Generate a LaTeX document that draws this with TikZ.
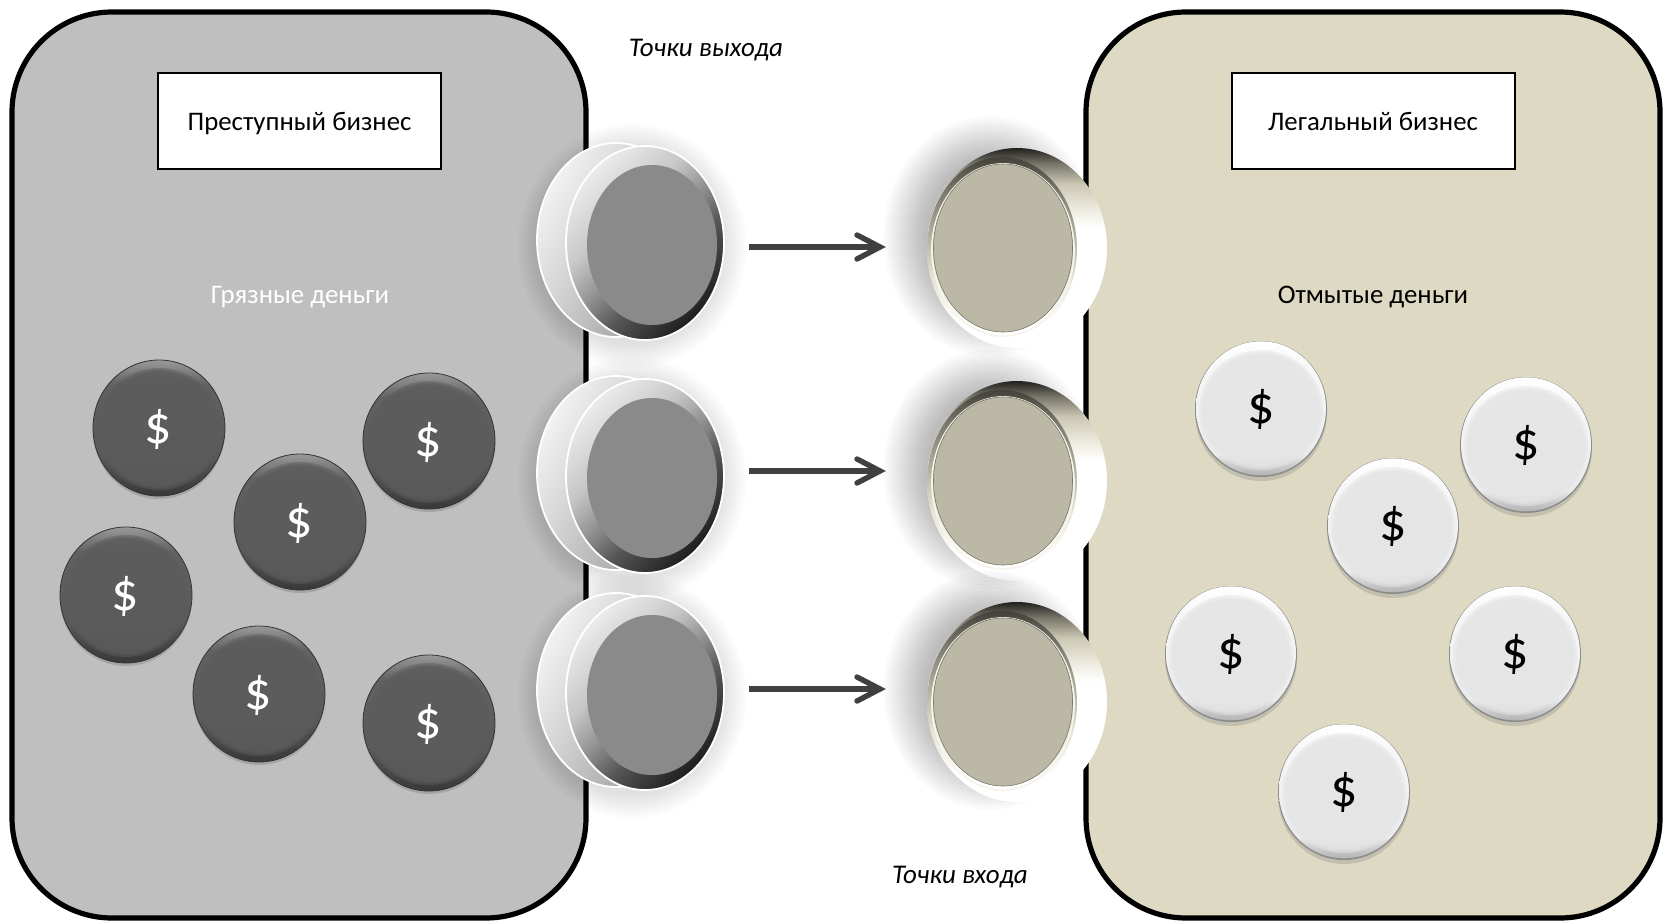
\documentclass[tikz,border=0pt]{standalone}
\usepackage{fontspec}
\usetikzlibrary{shapes.geometric}
\setmainfont{Carlito}
\definecolor{paneL}{HTML}{BFBFBF}
\definecolor{paneR}{HTML}{DDD9C3}
\definecolor{flowc}{HTML}{404040}
\pgfdeclarehorizontalshading{exitfront}{100bp}{color(0bp)=(white); color(25bp)=(black!8); color(40bp)=(black!22); color(50bp)=(black!42); color(60bp)=(black!66); color(75bp)=(black!88); color(100bp)=(black!88)}
\pgfdeclarehorizontalshading{exitback}{100bp}{color(0bp)=(white); color(25bp)=(black!5); color(40bp)=(black!15); color(55bp)=(black!26); color(75bp)=(black!40); color(100bp)=(black!40)}
\pgfdeclareverticalshading{entrybody}{100bp}{color(0bp)=(white); color(55bp)=(white); color(60bp)=(paneR!55!white); color(66bp)=(paneR!92!black); color(71bp)=(paneR!55!black); color(75bp)=(paneR!15!black); color(100bp)=(paneR!15!black)}
\pgfdeclareverticalshading{entryring}{100bp}{color(0bp)=(white); color(30bp)=(white); color(42bp)=(paneR!70!white); color(52bp)=(paneR!85!black); color(66bp)=(paneR!55!black); color(75bp)=(paneR!30!black); color(100bp)=(paneR!30!black)}
\pgfdeclareverticalshading{coindark}{100bp}{color(0bp)=(black!78); color(25bp)=(black!78); color(40bp)=(black!65); color(66bp)=(black!62); color(75bp)=(black!40); color(100bp)=(black!40)}
\pgfdeclareverticalshading{coinlight}{100bp}{color(0bp)=(black!30); color(25bp)=(black!30); color(33bp)=(black!8); color(65bp)=(black!3); color(75bp)=(white); color(100bp)=(white)}
\tikzset{
  panel/.style={line width=2.6pt,draw=black,rounded corners=50pt},
  labelbox/.style={draw=black,fill=white,line width=1pt,minimum width=141.5pt,minimum height=48pt,inner sep=0pt,text height=12pt,text depth=2.4pt,font=\fontsize{13.4}{15}\selectfont},
  plain/.style={inner sep=0pt,text height=12pt,text depth=2.4pt,font=\fontsize{13.4}{15}\selectfont},
  note/.style={inner sep=0pt,text height=12pt,text depth=2.4pt,font=\fontsize{13.5}{15}\selectfont\itshape},
  flow/.style={line width=2.7pt,draw=flowc},
  dollar/.style={inner sep=0pt,font=\fontsize{27}{30}\selectfont}
}
\newcommand{\darkcoin}[3]{%
  \fill[black!45,opacity=.5] (#2,#3+3) ellipse [x radius=66,y radius=68];
  \shade[shading=coindark] (#2,#3) ellipse [x radius=66,y radius=68];
  \draw[black!80,line width=.4pt] (#2,#3) ellipse [x radius=66,y radius=68];
  \foreach \d in {0,2,4}{\fill[black!64,opacity=.5] (#2,#3+1) ellipse [x radius=62-\d,y radius=61-\d];}
  \node[dollar,text=white] (#1) at (#2-.5,#3+1) {\$};
}
\newcommand{\lightcoin}[3]{%
  \fill[black!55,opacity=.25] (#2,#3+4) ellipse [x radius=66,y radius=68];
  \fill[black!45] (#2,#3) ellipse [x radius=66,y radius=68];
  \shade[shading=coinlight] (#2,#3-.7) ellipse [x radius=65,y radius=67];
  \foreach \d in {0,2,4}{\fill[black!10,opacity=.5] (#2,#3+1) ellipse [x radius=62-\d,y radius=60-\d];}
  \node[dollar,text=black] (#1) at (#2,#3) {\$};
}
\newcommand{\exitdisc}[2]{%
  \foreach \d in {0,...,9}{\fill[black,opacity=.012] (632,#2+3) ellipse [x radius=92+2.5*\d,y radius=100+2.5*\d];}
  \shade[shading=exitback,shading angle=-30,draw=white,line width=.9pt] (616,#2-3) ellipse [x radius=79,y radius=97];
  \shade[shading=exitfront,shading angle=-45,draw=white,line width=.9pt] (645,#2) ellipse [x radius=79,y radius=97];
  \node[ellipse,fill=black!46,minimum width=65pt,minimum height=80pt,inner sep=0pt] (#1) at (652,#2+2) {};
}
\newcommand{\entrydisc}[2]{%
  \foreach \d in {0,...,13}{\fill[black,opacity=.021] (990,#2-12) ellipse [x radius=65+3.2*\d,y radius=78+3.2*\d];}
  \shade[shading=entrybody] (1017,#2) ellipse [x radius=90,y radius=100];
  \shade[shading=entryring] (1002,#2+1) ellipse [x radius=75,y radius=92];
  \draw[white!70!paneR,line width=.9pt] (1003,#2+2) ellipse [x radius=71,y radius=86];
  \node[ellipse,fill=paneR!85!black,draw=paneR!55!black,line width=.3pt,minimum width=69.5pt,minimum height=84pt,inner sep=0pt] (#1) at (1003,#2) {};
}
\begin{document}
\begin{tikzpicture}[x=.5pt,y=-.5pt]
\useasboundingbox (0,0) rectangle (1667,922);
\fill[white] (0,0) rectangle (1667,922);
\draw[panel,fill=paneL] (12,12) rectangle (586,918);
\draw[panel,fill=paneR] (1086,12) rectangle (1660,918);
\node[labelbox] (crime) at (299.5,120.5) {Преступный бизнес};
\node[labelbox] (legal) at (1373,120.5) {Легальный бизнес};
\node[plain,text=white] (dirty) at (300,294) {Грязные деньги};
\node[plain,text=black] (clean) at (1373,294) {Отмытые деньги};
\node[note] (outlbl) at (706,47) {Точки выхода};
\node[note] (inlbl) at (960,874) {Точки входа};
\darkcoin{d1}{159}{428}
\darkcoin{d2}{429}{441}
\darkcoin{d3}{300}{522}
\darkcoin{d4}{126}{595}
\darkcoin{d5}{259}{694}
\darkcoin{d6}{429}{723}
\lightcoin{c1}{1261}{409}
\lightcoin{c2}{1526}{445}
\lightcoin{c3}{1393}{526}
\lightcoin{c4}{1231}{654}
\lightcoin{c5}{1515}{654}
\lightcoin{c6}{1344}{792}
\exitdisc{ex1}{243}
\exitdisc{ex2}{476}
\exitdisc{ex3}{693}
\entrydisc{en1}{248}
\entrydisc{en2}{481}
\entrydisc{en3}{702}
\foreach \n/\y in {1/247,2/471,3/689}{
  \coordinate (fs\n) at (749,\y);
  \coordinate (ft\n) at (880,\y);
  \draw[flow] (fs\n) -- (ft\n);
  \draw[flow,line cap=round,line join=miter] ([shift={(-23,-12)}]ft\n) -- (ft\n) -- ([shift={(-23,12)}]ft\n);
}
\end{tikzpicture}
\end{document}
